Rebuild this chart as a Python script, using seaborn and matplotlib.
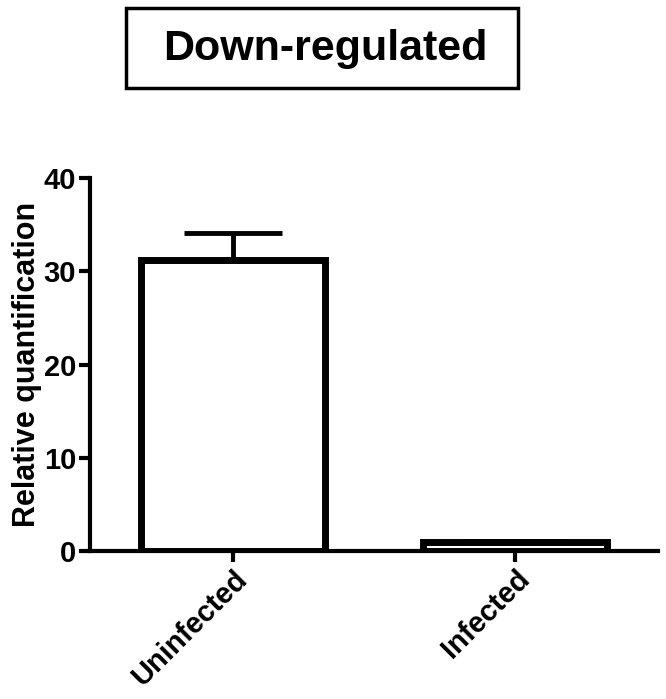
import numpy as np
import matplotlib.pyplot as plt
import pandas as pd
import seaborn as sns
from matplotlib.patches import Rectangle

# data
groups = ["Uninfected", "Infected"]
means = [31.2, 1.0]
errs = [2.9, 0.1]

sns.set_style("ticks")
plt.rcParams['font.family'] = ['Liberation Sans', 'DejaVu Sans']
plt.rcParams['font.weight'] = 'bold'
plt.rcParams['text.color'] = 'black'
plt.rcParams['axes.labelcolor'] = 'black'
plt.rcParams['xtick.color'] = 'black'
plt.rcParams['ytick.color'] = 'black'
plt.rcParams['axes.edgecolor'] = 'black'

df = pd.DataFrame({"group": groups, "value": means})

fig = plt.figure(figsize=(6.66, 6.99), dpi=100)
ax = fig.add_axes([0.135, 0.2117, 0.853, 0.5333])

sns.barplot(x="group", y="value", data=df, color="white", edgecolor="black",
            linewidth=5, width=0.65, ax=ax, zorder=3)
ax.errorbar(range(len(groups)), means, yerr=[np.zeros(len(errs)), errs],
            fmt="none", ecolor="black", elinewidth=3.5, capsize=35,
            capthick=3.5, zorder=2)

ax.set_xlim(-0.507, 1.507)
ax.set_ylim(0, 40)
ax.set_yticks([0, 10, 20, 30, 40])
ax.set_xlabel("")
ax.set_ylabel("Relative quantification", fontsize=22, fontweight="bold",
              labelpad=1)
ax.tick_params(axis="both", width=3, length=8, labelsize=21, direction="out",
               pad=2)
plt.setp(ax.get_xticklabels(), rotation=45, ha="right", rotation_mode="anchor",
         fontweight="bold")
plt.setp(ax.get_yticklabels(), fontweight="bold")
for s in ["left", "bottom"]:
    ax.spines[s].set_linewidth(3)
sns.despine(ax=ax)

# boxed title
fig.patches.append(Rectangle((126 / 666, 1 - 88 / 699), 392 / 666, 80 / 699,
                             transform=fig.transFigure, facecolor="white",
                             edgecolor="black", linewidth=2.5))
fig.text(325 / 666, 1 - 49 / 699, "Down-regulated", fontsize=31,
         fontweight="bold", ha="center", va="center")

fig.savefig("out.png", dpi=100)
